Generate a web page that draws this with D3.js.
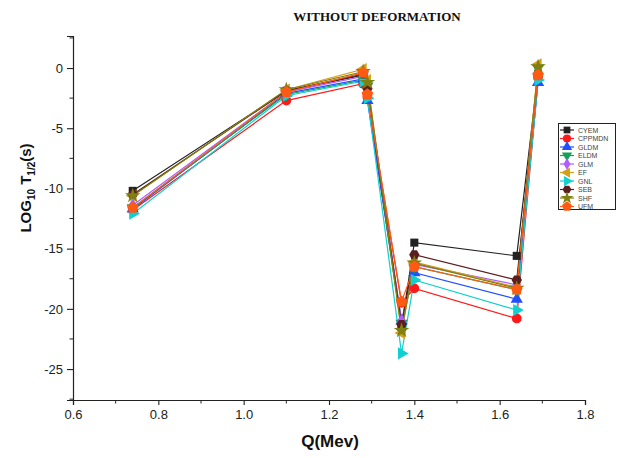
<!DOCTYPE html>
<html><head><meta charset="utf-8">
<script src="https://cdn.jsdelivr.net/npm/d3@7"></script>
<style>body{margin:0;background:#fff;}svg{display:block;}</style>
</head><body>
<svg id="c" width="617" height="458"></svg>
<script>
const qValues = [0.74, 1.10, 1.28, 1.29, 1.37, 1.40, 1.64, 1.69];
const seriesNames = ["CYEM","CPPMDN","GLDM","ELDM","GLM","EF","GNL","SEB","SHF","UFM"];
const CYEM   = [-10.2, -1.9, -0.6, -2.3, -21.5, -14.5, -15.6, -0.5];
const CPPMDN = [-11.8, -2.7, -1.3, -2.4, -19.5, -18.3, -20.8, -0.8];
const GLDM   = [-11.7, -2.1, -0.9, -2.7, -21.0, -17.0, -19.2, -1.2];
const ELDM   = [-11.6, -2.2, -1.0, -1.5, -21.2, -16.5, -18.4, 0.0];
const GLM    = [-11.4, -2.0, -0.7, -1.8, -21.0, -16.3, -18.0, -0.3];
const EF     = [-10.6, -1.8, -0.1, -1.0, -22.0, -16.1, -18.2, 0.3];
const GNL    = [-12.1, -2.3, -1.1, -2.5, -23.7, -17.6, -20.1, -1.0];
const SEB    = [-10.5, -1.9, -0.5, -1.7, -21.3, -15.5, -17.6, -0.6];
const SHF    = [-10.6, -1.8, -0.3, -1.2, -21.8, -16.2, -18.3, 0.1];
const UFM    = [-11.6, -2.0, -0.4, -2.2, -19.4, -16.5, -18.4, -0.6];
const seriesValues = [CYEM, CPPMDN, GLDM, ELDM, GLM, EF, GNL, SEB, SHF, UFM];
const seriesColors = ["#222222","#ff1a1a","#1f4fff","#15a05a","#b05cff","#d4a017","#10d0d0","#5a1e1e","#808010","#ff5a14"];
const xTicks = [0.6, 0.8, 1.0, 1.2, 1.4, 1.6, 1.8];
const yTicks = [0, -5, -10, -15, -20, -25];

const svg = d3.select("#c");
const x = d3.scaleLinear().domain([0.6, 1.8]).range([73, 585]);
const y = d3.scaleLinear().domain([-27.57, 2.66]).range([400, 36]);

function polySym(n, rot){
  return {draw(ctx, size){
    const r = Math.sqrt(size/(0.5*n*Math.sin(2*Math.PI/n)));
    for(let i=0;i<n;i++){
      const a = rot + i*2*Math.PI/n;
      const px = r*Math.cos(a), py = r*Math.sin(a);
      if(i===0) ctx.moveTo(px,py); else ctx.lineTo(px,py);
    }
    ctx.closePath();
  }};
}
const symHex = polySym(6, 0);
const symPent = polySym(5, -Math.PI/2);
const symbols = [
  {t:d3.symbolSquare, r:0},
  {t:d3.symbolCircle, r:0},
  {t:d3.symbolTriangle, r:0},
  {t:d3.symbolTriangle, r:180},
  {t:d3.symbolDiamond, r:0},
  {t:d3.symbolTriangle, r:-90},
  {t:d3.symbolTriangle, r:90},
  {t:symHex, r:0},
  {t:d3.symbolStar, r:0},
  {t:symPent, r:0}
];
const symSize = [65, 75, 65, 65, 60, 65, 65, 70, 75, 90];

// axes
const xAxis = d3.axisBottom(x).tickValues(xTicks).tickFormat(d3.format(".1f")).tickSize(5).tickPadding(5);
const gx = svg.append("g").attr("transform","translate(0,400)").call(xAxis);
const xMinor = d3.range(0.7, 1.8, 0.2);
gx.selectAll(".minor").data(xMinor).enter().append("line")
  .attr("x1",d=>x(d)).attr("x2",d=>x(d)).attr("y1",0).attr("y2",3.5).attr("stroke","#222");
const yAxis = d3.axisLeft(y).tickValues(yTicks).tickFormat(d=>String(d)).tickSize(6).tickPadding(4);
const gy = svg.append("g").attr("transform","translate(73,0)").call(yAxis);
const yMinor = [2.5, -2.5, -7.5, -12.5, -17.5, -22.5, -27.5];
gy.selectAll(".minor").data(yMinor).enter().append("line")
  .attr("x1",0).attr("x2",-3.5).attr("y1",d=>y(d)).attr("y2",d=>y(d)).attr("stroke","#222");
[gx, gy].forEach(g=>{
  g.select(".domain").attr("stroke","#222").attr("stroke-width",1.2);
  g.selectAll(".tick line").attr("stroke","#222").attr("stroke-width",1.1);
  g.selectAll(".tick text").attr("font-family","Liberation Sans, Arial, sans-serif").attr("font-size",13).attr("fill","#222");
});

// lines
const line = d3.line().x(d=>x(d.q)).y(d=>y(d.v));
seriesNames.forEach((name,i)=>{
  const pts = qValues.map((q,j)=>({q, v: seriesValues[i][j]}));
  svg.append("path").datum(pts).attr("d", line)
    .attr("fill","none").attr("stroke", seriesColors[i]).attr("stroke-width",1.2);
});
seriesNames.forEach((name,i)=>{
  const pts = qValues.map((q,j)=>({q, v: seriesValues[i][j]}));
  svg.append("g").selectAll("path").data(pts).enter().append("path")
    .attr("d", d3.symbol().type(symbols[i].t).size(symSize[i]))
    .attr("transform", d=>`translate(${x(d.q)},${y(d.v)}) rotate(${symbols[i].r})`)
    .attr("fill", seriesColors[i]);
});

// title
svg.append("text").attr("x",377).attr("y",21).attr("text-anchor","middle")
  .attr("font-family","Liberation Serif, Times New Roman, serif").attr("font-weight","bold")
  .attr("font-size",13).attr("fill","#111").text("WITHOUT DEFORMATION");

// axis titles
svg.append("text").attr("x",330).attr("y",447).attr("text-anchor","middle")
  .attr("font-family","Liberation Sans, Arial, sans-serif").attr("font-weight","bold")
  .attr("font-size",17).attr("fill","#111").text("Q(Mev)");
const yl = svg.append("text").attr("transform","translate(31,188) rotate(-90)").attr("text-anchor","middle")
  .attr("font-family","Liberation Sans, Arial, sans-serif").attr("font-weight","bold")
  .attr("font-size",15).attr("fill","#111");
yl.append("tspan").text("LOG");
yl.append("tspan").attr("font-size",10).attr("dy",4).text("10");
yl.append("tspan").attr("dy",-4).text(" T");
yl.append("tspan").attr("font-size",10).attr("dy",4).text("1/2");
yl.append("tspan").attr("dy",-4).text("(s)");

// legend
const lg = svg.append("g");
lg.append("rect").attr("x",558.5).attr("y",123.5).attr("width",57).attr("height",86)
  .attr("fill","#fff").attr("stroke","#222").attr("stroke-width",1);
seriesNames.forEach((name,i)=>{
  const yy = 130 + i*8.5;
  lg.append("line").attr("x1",560).attr("x2",574).attr("y1",yy).attr("y2",yy)
    .attr("stroke",seriesColors[i]).attr("stroke-width",1.2);
  lg.append("path").attr("d", d3.symbol().type(symbols[i].t).size(symSize[i]*0.7))
    .attr("transform",`translate(567,${yy}) rotate(${symbols[i].r})`).attr("fill",seriesColors[i]);
  lg.append("text").attr("x",578).attr("y",yy+2.5).attr("font-family","Liberation Sans, Arial, sans-serif")
    .attr("font-size",7).attr("fill","#444").text(name);
});
</script>
</body></html>
